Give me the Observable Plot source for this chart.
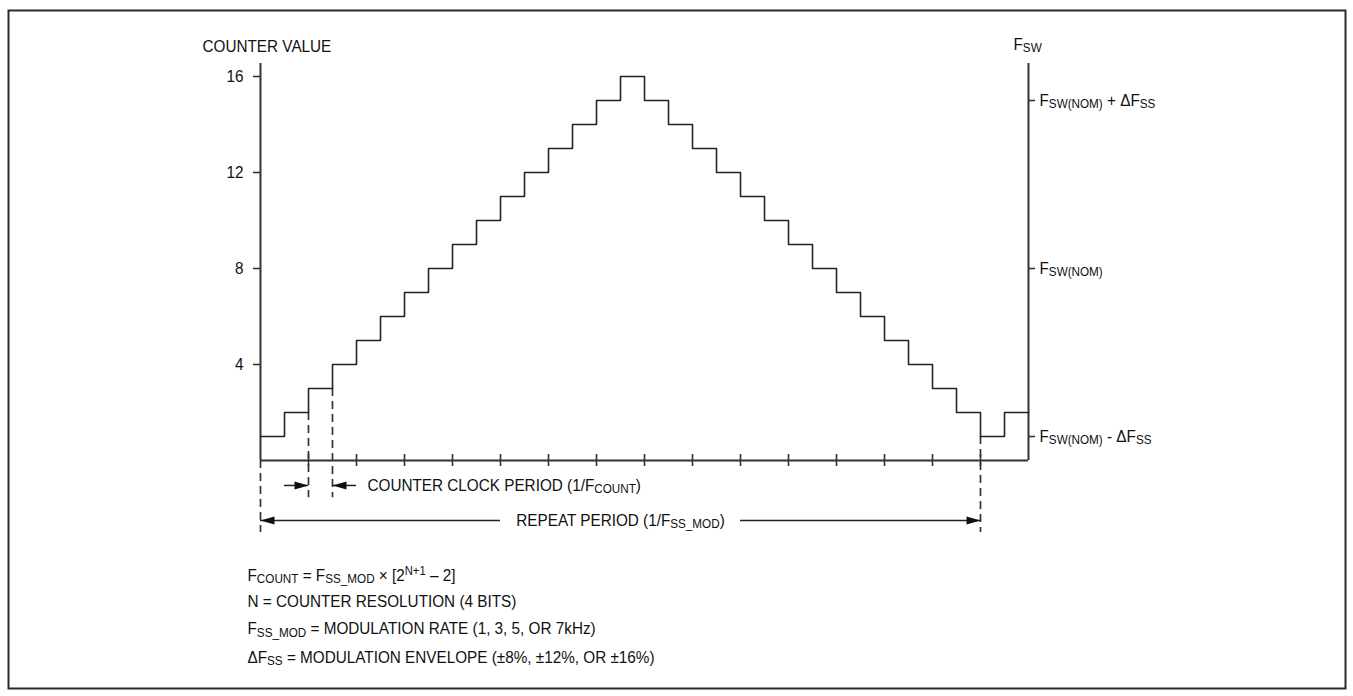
<!DOCTYPE html>
<html>
<head>
<meta charset="utf-8">
<script src="https://cdn.jsdelivr.net/npm/d3@7"></script>
<script src="https://cdn.jsdelivr.net/npm/@observablehq/plot@0.6"></script>
<style>
  html, body { margin: 0; padding: 0; background: #fff; }
  #chart svg { display: block; }
</style>
</head>
<body>
<div id="chart"></div>
<script>
// ---------------- data ----------------
// counter value during each counter clock period (one step = 1/FCOUNT)
const counterValues = [1, 2, 3, 4, 5, 6, 7, 8, 9, 10, 11, 12, 13, 14, 15, 16,
                       15, 14, 13, 12, 11, 10, 9, 8, 7, 6, 5, 4, 3, 2, 1, 2];
const leftTicks = [4, 8, 12, 16];
const leftTickLabels = ["4", "8", "12", "16"];
const rightTicks = [15, 8, 1];
const rightTickLabels = ["F_{SW(NOM)} + ΔF_{SS}", "F_{SW(NOM)}", "F_{SW(NOM)} - ΔF_{SS}"];
const timeTicks = [2, 4, 6, 8, 10, 12, 14, 16, 18, 20, 22, 24, 26, 28, 30];
const leftTitle = "COUNTER VALUE";
const rightTitle = "F_{SW}";
const counterPeriodLabel = "COUNTER CLOCK PERIOD (1/F_{COUNT})";
const repeatPeriodLabel = "REPEAT PERIOD (1/F_{SS_MOD})";
const noteLines = [
  "F_{COUNT} = F_{SS_MOD} × [2^{N+1} – 2]",
  "N = COUNTER RESOLUTION (4 BITS)",
  "F_{SS_MOD} = MODULATION RATE (1, 3, 5, OR 7kHz)",
  "ΔF_{SS} = MODULATION ENVELOPE (±8%, ±12%, OR ±16%)"
];

// ---------------- layout (in chart units) ----------------
const yTop = 16.54;          // top of the vertical axes
const titleRow = 17.25;
const counterArrowRow = -1.04;
const repeatArrowRow = -2.5;
const noteRows = [-4.79, -5.86, -7.02, -8.19];

// step line table
const stepData = counterValues.map((v, i) => ({t: i, v}));
stepData.push({t: counterValues.length, v: counterValues[counterValues.length - 1]});
const tEnd = counterValues.length;

// dashed guides (at step edges)
const guides = [
  {t: 0, from: 0, to: -3.0},
  {t: 2, from: counterValues[1], to: -1.55},
  {t: 3, from: counterValues[2], to: -1.55},
  {t: 30, from: counterValues[30], to: -3.0}
];
const arrows = [
  {x1: 1, x2: 2, y: counterArrowRow, head: "right"},
  {x1: 3, x2: 4, y: counterArrowRow, head: "left"},
  {x1: 0, x2: 10, y: repeatArrowRow, head: "left"},
  {x1: 20, x2: 30, y: repeatArrowRow, head: "right"}
];

const headRight = {draw(ctx) { ctx.moveTo(0, 0); ctx.lineTo(-14, -4); ctx.lineTo(-14, 4); ctx.closePath(); }};
const headLeft  = {draw(ctx) { ctx.moveTo(0, 0); ctx.lineTo(14, -4); ctx.lineTo(14, 4); ctx.closePath(); }};

const FONT = '"Liberation Sans", Arial, Helvetica, sans-serif';
const INK = "#333";
const TXT = "#111";
const textOpts = {fontFamily: FONT, fontSize: 17, fill: TXT};

const svg = Plot.plot({
  width: 1353,
  height: 696,
  marginLeft: 8, marginTop: 10, marginRight: 8, marginBottom: 8,
  style: {fontFamily: FONT, fontSize: "17px", background: "#fff", color: TXT},
  x: {type: "linear", domain: [0, tEnd], range: [260, 1028], axis: null},
  y: {type: "linear", domain: [0, 16], range: [460, 76], axis: null},
  marks: [
    Plot.frame({stroke: "#2a2a2a", strokeWidth: 2}),
    // axes
    Plot.ruleX([0, tEnd], {x: d => d, y1: 0, y2: yTop, stroke: INK, strokeWidth: 2}),
    Plot.ruleY([0], {y: d => d, x1: 0, x2: tEnd, stroke: INK, strokeWidth: 2}),
    Plot.ruleY(leftTicks, {y: d => d, x1: 0, x2: 0, insetLeft: -7, stroke: INK, strokeWidth: 1.6}),
    Plot.ruleY(rightTicks, {y: d => d, x1: tEnd, x2: tEnd, insetRight: -7, stroke: INK, strokeWidth: 1.6}),
    Plot.ruleX(timeTicks, {x: d => d, y1: 0, y2: 0, insetTop: -6, insetBottom: -6, stroke: INK, strokeWidth: 1.6}),
    Plot.text(leftTicks, {x: 0, y: d => d, text: (d, i) => leftTickLabels[i], textAnchor: "end", dx: -17, ...textOpts}),
    Plot.text(rightTicks, {x: tEnd, y: d => d, text: (d, i) => rightTickLabels[i], textAnchor: "start", dx: 11, ...textOpts}),
    Plot.text([leftTitle], {x: 0, y: titleRow, text: d => d, textAnchor: "start", dx: -58, ...textOpts}),
    Plot.text([rightTitle], {x: tEnd, y: titleRow, text: d => d, textAnchor: "start", dx: -15, dy: -2, ...textOpts}),
    // dashed guides
    Plot.ruleX(guides, {x: "t", y1: "from", y2: "to", stroke: INK, strokeWidth: 1.7, strokeDasharray: "8,5"}),
    // step line
    Plot.line(stepData, {x: "t", y: "v", curve: "step-after", stroke: "#222", strokeWidth: 1.6}),
    // arrows
    Plot.ruleY(arrows, {y: "y", x1: "x1", x2: "x2", stroke: "#222", strokeWidth: 1.5}),
    Plot.dot(arrows.filter(a => a.head === "right"), {x: "x2", y: "y", symbol: headRight, fill: "#111", stroke: "none"}),
    Plot.dot(arrows.filter(a => a.head === "left"), {x: "x1", y: "y", symbol: headLeft, fill: "#111", stroke: "none"}),
    Plot.text([counterPeriodLabel], {x: 4, y: counterArrowRow, text: d => d, textAnchor: "start", dx: 11, ...textOpts}),
    Plot.text([repeatPeriodLabel], {x: 15, y: repeatArrowRow, text: d => d, textAnchor: "middle", ...textOpts}),
    // notes
    Plot.text(noteLines, {x: 0, y: (d, i) => noteRows[i], text: d => d, textAnchor: "start", dx: -13, ...textOpts})
  ]
});

// condensed look + subscripts/superscripts
function enrich(root) {
  d3.select(root).selectAll("text").each(function () {
    const el = this;
    const raw = el.textContent;
    const tr = el.getAttribute("transform");
    if (tr) el.setAttribute("transform", tr + " scale(0.9,1)");
    if (!/[_^]\{/.test(raw)) return;
    el.textContent = "";
    const re = /([_^])\{([^}]*)\}/g;
    let last = 0, m, shift = 0;
    const add = (txt, kind) => {
      if (!txt) return;
      const t = document.createElementNS("http://www.w3.org/2000/svg", "tspan");
      t.textContent = txt;
      const target = kind === "_" ? 2.5 : kind === "^" ? -6 : 0;
      if (target !== shift) t.setAttribute("dy", target - shift);
      shift = target;
      if (kind) t.setAttribute("font-size", kind === "_" ? 13 : 12.5);
      el.appendChild(t);
    };
    while ((m = re.exec(raw))) {
      add(raw.slice(last, m.index), null);
      add(m[2], m[1]);
      last = re.lastIndex;
    }
    add(raw.slice(last), null);
  });
}
enrich(svg);
document.getElementById("chart").appendChild(svg);
</script>
</body>
</html>
